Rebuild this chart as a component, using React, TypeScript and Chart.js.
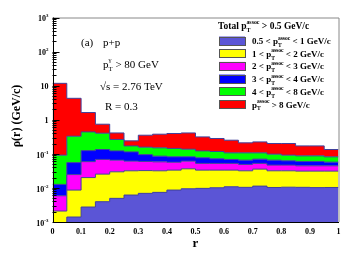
import React, { useEffect, useRef } from "react";
import { Chart, registerables } from "chart.js";

Chart.register(...registerables);

// Bin lower edges in r (bin width 0.05)
const binLow = [0, 0.05, 0.1, 0.15, 0.2, 0.25, 0.3, 0.35, 0.4, 0.45, 0.5, 0.55, 0.6, 0.65, 0.7, 0.75, 0.8, 0.85, 0.9, 0.95];
const rMax = 1;

// Stacked (cumulative) rho(r) tops per layer, bottom layer first
const stackUpTo1 = [0.0008, 0.0014, 0.00275, 0.00394, 0.00494, 0.00618, 0.00693, 0.0074, 0.00865, 0.00944, 0.0097, 0.0101, 0.0108, 0.0104, 0.0113, 0.0103, 0.0105, 0.0104, 0.0102, 0.0103];
const stackUpTo2 = [0.0021, 0.00865, 0.0201, 0.0254, 0.0297, 0.0318, 0.0322, 0.0318, 0.0333, 0.0364, 0.0333, 0.0333, 0.0333, 0.0318, 0.0356, 0.0318, 0.0318, 0.0311, 0.0311, 0.0311];
const stackUpTo3 = [0.00589, 0.0246, 0.059, 0.0685, 0.0653, 0.0611, 0.0598, 0.0582, 0.0566, 0.0611, 0.0524, 0.0524, 0.0524, 0.0489, 0.0524, 0.0467, 0.0467, 0.0445, 0.0445, 0.0445];
const stackUpTo4 = [0.0127, 0.0552, 0.124, 0.134, 0.122, 0.114, 0.0946, 0.0855, 0.0816, 0.0816, 0.0762, 0.0713, 0.0685, 0.0653, 0.0698, 0.0653, 0.0623, 0.0598, 0.0598, 0.0571];
const stackUpTo8 = [0.0915, 0.329, 0.44, 0.403, 0.264, 0.171, 0.157, 0.15, 0.144, 0.137, 0.122, 0.117, 0.107, 0.107, 0.107, 0.098, 0.0915, 0.0873, 0.0873, 0.0816];
const stackTotal = [11.7, 4.26, 1.63, 0.74, 0.41, 0.24, 0.352, 0.377, 0.395, 0.41, 0.314, 0.282, 0.251, 0.21, 0.224, 0.201, 0.201, 0.171, 0.171, 0.134];

const layerLabels = [
  ["0.5 < p", " < 1 GeV/c"],
  ["1 < p", " < 2 GeV/c"],
  ["2 < p", " < 3 GeV/c"],
  ["3 < p", " < 4 GeV/c"],
  ["4 < p", " < 8 GeV/c"],
  ["p", " > 8 GeV/c"],
];
const layerColors = ["#5b55d6", "#ffff00", "#ff00ff", "#0000ff", "#00ff00", "#ff0000"];
const layers = [stackUpTo1, stackUpTo2, stackUpTo3, stackUpTo4, stackUpTo8, stackTotal];

const xTickLabels = ["0", "0.1", "0.2", "0.3", "0.4", "0.5", "0.6", "0.7", "0.8", "0.9", "1"];
const yDecades = [-3, -2, -1, 0, 1, 2, 3];

const SERIF = '"Liberation Serif", "DejaVu Serif", serif';
const OUTLINE = "#40409a";

type Part =
  | { t: string; size: number; bold?: boolean }
  | { sub: string; sup: string; size: number; bold?: boolean };

function font(size: number, bold?: boolean) {
  return `${bold ? "bold " : ""}${size}px ${SERIF}`;
}

function partWidth(ctx: CanvasRenderingContext2D, p: Part) {
  if ("t" in p) {
    ctx.font = font(p.size, p.bold);
    return ctx.measureText(p.t).width;
  }
  ctx.font = font(p.size * 0.62, p.bold);
  return Math.max(ctx.measureText(p.sub).width, ctx.measureText(p.sup).width);
}

function drawParts(ctx: CanvasRenderingContext2D, parts: Part[], x: number, yc: number, align: "left" | "right" | "center" = "left") {
  const total = parts.reduce((s, p) => s + partWidth(ctx, p), 0);
  let cx = align === "left" ? x : align === "right" ? x - total : x - total / 2;
  ctx.textAlign = "left";
  ctx.textBaseline = "alphabetic";
  for (const p of parts) {
    const w = partWidth(ctx, p);
    const base = yc + p.size * 0.34;
    if ("t" in p) {
      ctx.font = font(p.size, p.bold);
      ctx.fillText(p.t, cx, base);
    } else {
      ctx.font = font(p.size * 0.62, p.bold);
      if (p.sub) ctx.fillText(p.sub, cx, base + p.size * 0.32);
      if (p.sup) ctx.fillText(p.sup, cx, base - p.size * 0.5);
    }
    cx += w;
  }
}

const decorPlugin = {
  id: "rootDecor",
  afterDraw(chart: any) {
    const ctx: CanvasRenderingContext2D = chart.ctx;
    const { left, right, top, bottom } = chart.chartArea;
    const xs = chart.scales.x;
    const ys = chart.scales.y;
    ctx.save();
    ctx.fillStyle = "#000";
    ctx.strokeStyle = "#000";
    ctx.lineWidth = 1;

    // frame
    ctx.strokeStyle = "#888";
    ctx.beginPath();
    ctx.moveTo(left, top + 0.5);
    ctx.lineTo(right + 0.5, top + 0.5);
    ctx.lineTo(right + 0.5, bottom);
    ctx.stroke();
    ctx.strokeStyle = "#000";
    ctx.beginPath();
    ctx.moveTo(Math.round(left) + 0.5, top);
    ctx.lineTo(Math.round(left) + 0.5, Math.round(bottom) + 0.5);
    ctx.lineTo(right + 0.5, Math.round(bottom) + 0.5);
    ctx.stroke();

    // y ticks (inside)
    ctx.beginPath();
    for (const d of yDecades) {
      const py = Math.round(ys.getPixelForValue(Math.pow(10, d))) + 0.5;
      ctx.moveTo(left, py);
      ctx.lineTo(left + 7, py);
      if (d < 3) {
        for (let m = 2; m <= 9; m++) {
          const my = Math.round(ys.getPixelForValue(m * Math.pow(10, d))) + 0.5;
          ctx.moveTo(left, my);
          ctx.lineTo(left + 4, my);
        }
      }
    }
    ctx.stroke();

    // y tick labels
    for (const d of yDecades) {
      const py = ys.getPixelForValue(Math.pow(10, d));
      let parts: Part[];
      if (d === 0) parts = [{ t: "1", size: 8, bold: true }];
      else if (d === 1) parts = [{ t: "10", size: 8, bold: true }];
      else parts = [{ t: "10", size: 8, bold: true }, { sub: "", sup: String(d), size: 8, bold: true }];
      drawParts(ctx, parts, left - 4, py + 1, "right");
    }

    // x tick labels
    xTickLabels.forEach((lab, i) => {
      const px = xs.getPixelForValue(i / 10);
      drawParts(ctx, [{ t: lab, size: 8, bold: true }], px, bottom + 9, "center");
    });

    // axis titles
    drawParts(ctx, [{ t: "r", size: 13, bold: true }], (left + right) / 2, bottom + 21, "center");
    ctx.save();
    ctx.translate(16, 116);
    ctx.rotate(-Math.PI / 2);
    drawParts(ctx, [{ t: "\u03c1(r) (GeV/c)", size: 12, bold: true }], 0, 0, "center");
    ctx.restore();

    // annotations
    drawParts(ctx, [{ t: "(a)", size: 11 }], 81, 42);
    drawParts(ctx, [{ t: "p+p", size: 11 }], 103, 42);
    drawParts(ctx, [{ t: "p", size: 11 }, { sub: "T", sup: "\u03b3", size: 11 }, { t: " > 80 GeV", size: 11 }], 103, 64);
    drawParts(ctx, [{ t: "\u221as = 2.76 TeV", size: 11 }], 100, 86);
    drawParts(ctx, [{ t: "R = 0.3", size: 11 }], 105, 106);

    // legend
    drawParts(ctx, [
      { t: "Total p", size: 9.5, bold: true },
      { sub: "T", sup: "assoc", size: 9.5, bold: true },
      { t: " > 0.5 GeV/c", size: 9.5, bold: true },
    ], 218, 26);
    layerLabels.forEach((lab, i) => {
      const by = 36.5 + 12.7 * i;
      ctx.fillStyle = layerColors[i];
      ctx.fillRect(219, by, 26, 8.5);
      ctx.strokeStyle = "#555";
      ctx.strokeRect(219.5, Math.round(by) + 0.5, 26, 8);
      ctx.fillStyle = "#000";
      drawParts(ctx, [
        { t: lab[0], size: 9, bold: true },
        { sub: "T", sup: "assoc", size: 9, bold: true },
        { t: lab[1], size: 9, bold: true },
      ], 252, by + 4.5);
    });
    ctx.restore();
  },
};

export default function App() {
  const ref = useRef<HTMLCanvasElement>(null);
  useEffect(() => {
    if (!ref.current) return;
    const datasets = layers.map((arr, i) => ({
      label: layerLabels[i].join("pT"),
      data: [...binLow.map((x, j) => ({ x, y: arr[j] })), { x: rMax, y: arr[arr.length - 1] }],
      stepped: "before" as const,
      borderColor: OUTLINE,
      borderWidth: 1,
      backgroundColor: layerColors[i],
      pointRadius: 0,
      fill: i === 0 ? "start" : "-1",
    }));
    const chart = new Chart(ref.current, {
      type: "line",
      data: { datasets },
      options: {
        animation: false,
        responsive: false,
        layout: { padding: { left: 52.5, right: 18.5, top: 17.5, bottom: 34 } },
        scales: {
          x: { type: "linear", min: 0, max: 1, display: false },
          y: { type: "logarithmic", min: 1e-3, max: 1e3, display: false },
        },
        plugins: { legend: { display: false }, tooltip: { enabled: false } },
      },
      plugins: [decorPlugin],
    } as any);
    return () => chart.destroy();
  }, []);
  return (
    <div style={{ position: "fixed", left: 0, top: 0, width: 357, height: 256, background: "#fff" }}>
      <canvas ref={ref} width={357} height={256} />
    </div>
  );
}
